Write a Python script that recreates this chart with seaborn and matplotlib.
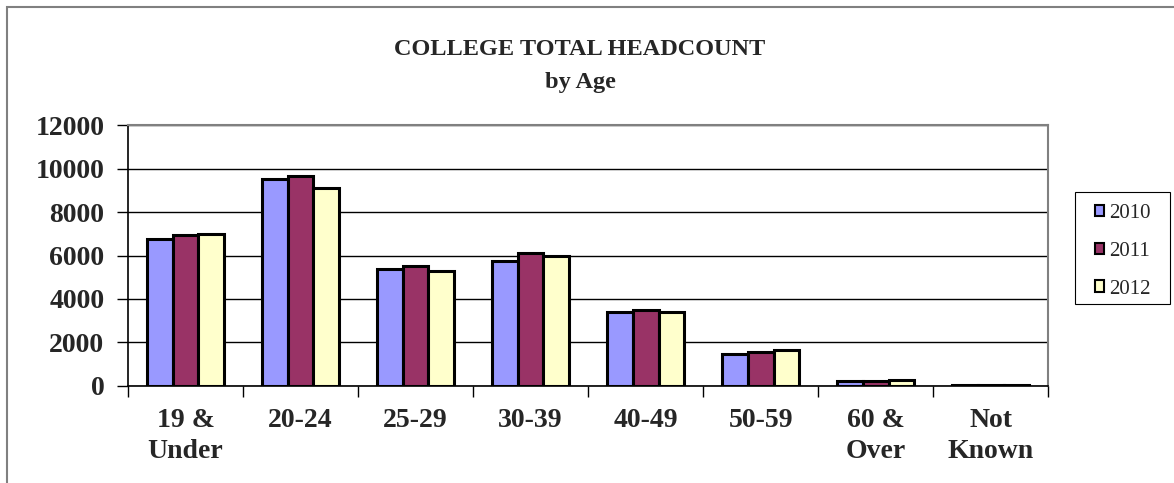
import matplotlib.pyplot as plt
import matplotlib.patches as mpatches
import pandas as pd
import seaborn as sns

# data
ages = ["19 &\nUnder", "20-24", "25-29", "30-39", "40-49", "50-59", "60 &\nOver", "Not\nKnown"]
years = ["2010", "2011", "2012"]
hc_2010 = [6750, 9540, 5400, 5760, 3420, 1460, 230, 50]
hc_2011 = [6950, 9670, 5530, 6110, 3490, 1550, 245, 30]
hc_2012 = [7000, 9090, 5290, 5990, 3390, 1640, 275, 30]

colors = ["#9999FF", "#993366", "#FFFFCC"]

df = pd.DataFrame({
    "age": ages * 3,
    "year": [y for y in years for _ in ages],
    "count": hc_2010 + hc_2011 + hc_2012,
})

sns.set_style("white")
plt.rcParams["font.family"] = ["Liberation Serif", "DejaVu Serif"]

W, H = 1174, 483
fig = plt.figure(figsize=(W / 100, H / 100), dpi=100)
ax = fig.add_axes([0.109, 0.201, 0.784, 0.540])

sns.barplot(
    data=df, x="age", y="count", hue="year", order=ages, hue_order=years,
    palette=colors, width=0.67, gap=0, edgecolor="black", linewidth=2.2,
    saturation=1, errorbar=None, ax=ax,
)

ax.set_ylim(0, 12000)
ax.set_xlim(-0.5, len(ages) - 0.5)
ax.set_yticks(range(0, 12001, 2000))
ax.set_yticklabels([str(v) for v in range(0, 12001, 2000)], fontsize=20, fontweight="bold")
ax.set_xticks(range(len(ages)))
ax.set_xticklabels(ages, fontsize=20, fontweight="bold", linespacing=1.33)
ax.set_xticks([i + 0.5 for i in range(-1, len(ages))], minor=True)
ax.tick_params(axis="x", which="major", length=0, pad=16)
ax.tick_params(axis="x", which="minor", length=8, width=1, color="black", direction="out", bottom=True)
ax.tick_params(axis="y", length=8, width=1, color="black", direction="out", left=True, pad=9)
ax.set_xlabel("")
ax.set_ylabel("")

ax.yaxis.grid(True, color="black", linewidth=1)
ax.set_axisbelow(True)
for side in ["left", "bottom"]:
    ax.spines[side].set_color("black")
    ax.spines[side].set_linewidth(1.2)
for side in ["top", "right"]:
    ax.spines[side].set_color("#808080")
    ax.spines[side].set_linewidth(1.5)

# legend entries without frame, frame drawn separately for wide side padding
ax.legend(
    loc="upper left", bbox_to_anchor=(1095 / W, 1 - 204 / H),
    bbox_transform=fig.transFigure, borderaxespad=0, borderpad=0,
    frameon=False, fontsize=15,
    handlelength=0.45, handleheight=0.45, handletextpad=0.25,
    labelspacing=0.9,
)
leg = ax.get_legend()
for h in leg.legend_handles:
    h.set_linewidth(1.5)
fig.patches.append(mpatches.Rectangle((1075 / W, 1 - 304 / H), 95 / W, 112 / H,
                                      transform=fig.transFigure, fill=False,
                                      edgecolor="black", linewidth=0.8))

fig.text(0.494, 0.898, "COLLEGE TOTAL HEADCOUNT", ha="center", va="center",
         fontsize=17.5, fontweight="bold")
fig.text(0.494, 0.830, "by Age", ha="center", va="center",
         fontsize=17.5, fontweight="bold")

fig.patches.append(mpatches.Rectangle((0.006, -0.05), 1.1, 1.036, transform=fig.transFigure,
                                      fill=False, edgecolor="#808080", linewidth=1.5))

fig.savefig("out.png", dpi=100)
